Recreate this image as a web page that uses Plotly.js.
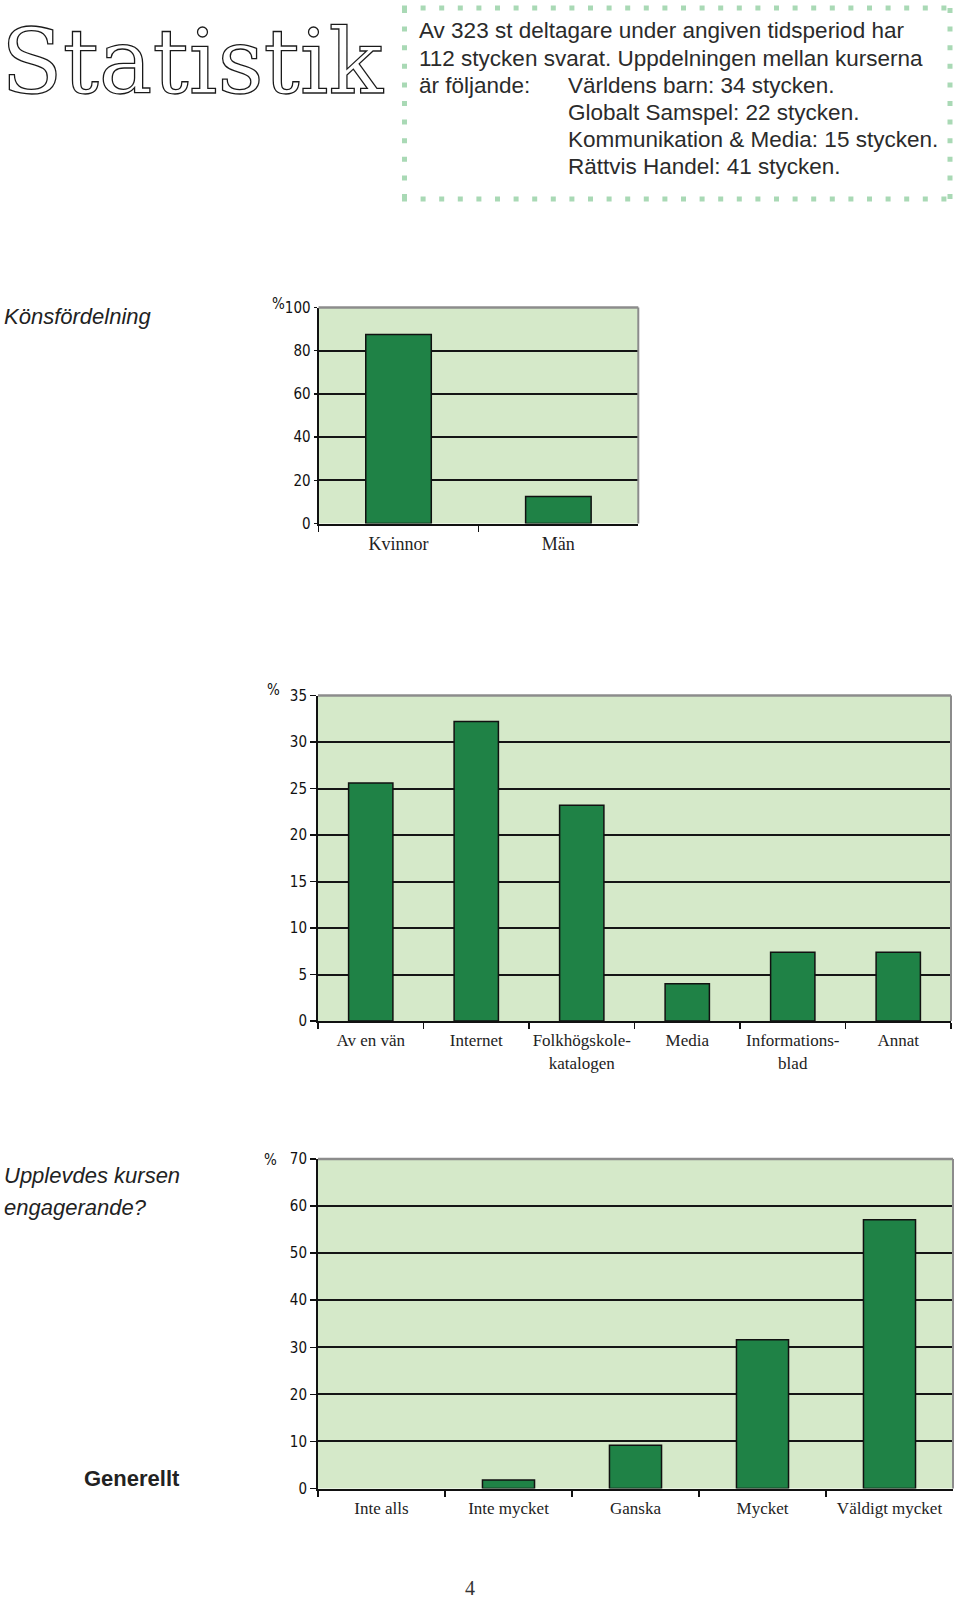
<!DOCTYPE html>
<html>
<head>
<meta charset="utf-8">
<script src="https://cdn.plot.ly/plotly-3.0.1.min.js"></script>
<style>
html,body{margin:0;padding:0;background:#fff;}
#chart{width:960px;height:1601px;}
</style>
</head>
<body>
<div id="chart"></div>
<script>
// ---- Data ----
const genderCats = ['Kvinnor', 'Män'];
const genderVals = [87.5, 12.5];
const genderTicks = [0, 20, 40, 60, 80, 100];

const sourceCats = ['Av en vän', 'Internet', 'Folkhögskole-<br>katalogen', 'Media', 'Informations-<br>blad', 'Annat'];
const sourceVals = [25.6, 32.2, 23.2, 4.0, 7.4, 7.4];
const sourceTicks = [0, 5, 10, 15, 20, 25, 30, 35];

const engageCats = ['Inte alls', 'Inte mycket', 'Ganska', 'Mycket', 'Väldigt mycket'];
const engageVals = [0, 1.8, 9.2, 31.6, 57.1];
const engageTicks = [0, 10, 20, 30, 40, 50, 60, 70];

const introLines = [
  'Av 323 st deltagare under angiven tidsperiod har',
  '112 stycken svarat. Uppdelningen mellan kurserna',
  'är följande:'
];
const courseLines = [
  'Världens barn: 34 stycken.',
  'Globalt Samspel: 22 stycken.',
  'Kommunikation &amp; Media: 15 stycken.',
  'Rättvis Handel: 41 stycken.'
];

// ---- Helpers ----
const W = 960, H = 1601;
const px = x => x / W;
const py = y => 1 - y / H;

const BAR = '#1f8246';
const BG = '#d5e9c9';
const GRID = '#151515';
const NARROW = 'Liberation Sans Narrow, DejaVu Sans Condensed, Arial Narrow, sans-serif';
const SERIF = 'Liberation Serif, Times New Roman, serif';
const SANS = 'Liberation Sans, Arial, sans-serif';

function barTrace(cats, vals, xa, ya, w) {
  return {
    type: 'bar', x: cats, y: vals, xaxis: xa, yaxis: ya, width: w,
    marker: {color: BAR, line: {color: '#111', width: vals.map(v => v > 0 ? 1.5 : 0)}},
    hoverinfo: 'x+y', showlegend: false
  };
}

const data = [
  barTrace(genderCats, genderVals, 'x', 'y', 0.41),
  barTrace(sourceCats, sourceVals, 'x2', 'y2', 0.42),
  barTrace(engageCats, engageVals, 'x3', 'y3', 0.41)
];

function xAxis(domain, anchor, size) {
  return {
    domain: domain, anchor: anchor, type: 'category',
    showgrid: false, showline: true, linecolor: '#111', linewidth: 2,
    ticks: 'outside', tickson: 'boundaries', ticklen: 6, tickwidth: 1.5, tickcolor: '#111',
    tickangle: 0, ticklabelstandoff: 3,
    tickfont: {family: SERIF, size: size, color: '#222'},
    fixedrange: true, zeroline: false
  };
}
function yAxis(domain, anchor, range, ticks, ticklen) {
  return {
    domain: domain, anchor: anchor, range: range, tickvals: ticks,
    showgrid: true, gridcolor: GRID, gridwidth: 2,
    showline: true, linecolor: '#111', linewidth: 2,
    ticks: 'outside', ticklen: ticklen, tickwidth: 1.5, tickcolor: '#111',
    tickfont: {family: NARROW, size: 15, color: '#111'},
    zeroline: false, fixedrange: true
  };
}

function frame(xa, ya) {
  const xr = xa + ' domain', yr = ya + ' domain';
  return [
    {type: 'line', xref: xr, yref: yr, x0: 0, x1: 1, y0: 1, y1: 1, line: {color: '#8c8c8c', width: 2.5}, layer: 'above'},
    {type: 'line', xref: xr, yref: yr, x0: 1, x1: 1, y0: 0, y1: 1, line: {color: '#8c8c8c', width: 2}, layer: 'above'}
  ];
}

// dotted box
const dotLine = {color: '#a9d9b5', width: 5, dash: '5px,13.6px'};
const boxShapes = [
  {type: 'line', xref: 'paper', yref: 'paper', x0: px(402), x1: px(952), y0: py(8), y1: py(8), line: dotLine},
  {type: 'line', xref: 'paper', yref: 'paper', x0: px(402), x1: px(952), y0: py(199), y1: py(199), line: dotLine},
  {type: 'line', xref: 'paper', yref: 'paper', x0: px(404.5), x1: px(404.5), y0: py(8), y1: py(199), line: dotLine},
  {type: 'line', xref: 'paper', yref: 'paper', x0: px(950), x1: px(950), y0: py(8), y1: py(199), line: dotLine}
];

const annotations = [];
function ann(text, x, y, font, xanchor, yanchor) {
  annotations.push({
    text: text, xref: 'paper', yref: 'paper', x: px(x), y: py(y),
    xanchor: xanchor || 'left', yanchor: yanchor || 'middle',
    showarrow: false, font: font, borderpad: 0
  });
}

// Title
ann('<span style="fill:#ffffff;stroke:#1a1a1a;stroke-width:1.3px">Statistik</span>', 0, 61,
    {family: 'DejaVu Serif, serif', size: 90, color: '#1a1a1a'});

// Intro text
const lineY = [30.6, 58.0, 85.0, 112.3, 139.7, 166.6];
const textFont = {family: SANS, size: 22.5, color: '#2b2b2b'};
introLines.forEach((t, i) => ann(t, 418, lineY[i], textFont));
courseLines.forEach((t, i) => ann(t, 567, lineY[i + 2], textFont));

// Section labels
const labelFont = {family: SANS, size: 22, color: '#222'};
ann('<i>Könsfördelning</i>', 3, 316, labelFont);
ann('<i>Upplevdes kursen</i>', 3, 1175, labelFont);
ann('<i>engagerande?</i>', 3, 1207, labelFont);
ann('<b>Generellt</b>', 83, 1478, {family: SANS, size: 22, color: '#222'});

// percent signs
const pctFont = {family: NARROW, size: 15, color: '#111'};
ann('%', 278, 304, pctFont, 'center');
ann('%', 273, 690, pctFont, 'center');
ann('%', 270, 1160, pctFont, 'center');

// page number
ann('4', 470, 1588, {family: SERIF, size: 20, color: '#333'}, 'center');

const layout = {
  width: W, height: H,
  margin: {l: 0, r: 0, t: 0, b: 0, pad: 0},
  paper_bgcolor: '#ffffff', plot_bgcolor: BG,
  showlegend: false,
  xaxis: xAxis([px(318.6), px(638.3)], 'y', 18),
  yaxis: yAxis([py(523.5), py(307.5)], 'x', [0, 100], genderTicks, 3),
  xaxis2: xAxis([px(318), px(951)], 'y2', 17),
  yaxis2: yAxis([py(1021), py(695.5)], 'x2', [0, 35], sourceTicks, 6),
  xaxis3: xAxis([px(318), px(953)], 'y3', 17),
  yaxis3: yAxis([py(1488.5), py(1159)], 'x3', [0, 70], engageTicks, 6),
  shapes: [].concat(frame('x', 'y'), frame('x2', 'y2'), frame('x3', 'y3'), boxShapes),
  annotations: annotations
};

Plotly.newPlot('chart', data, layout, {displayModeBar: false, staticPlot: true});
</script>
</body>
</html>
